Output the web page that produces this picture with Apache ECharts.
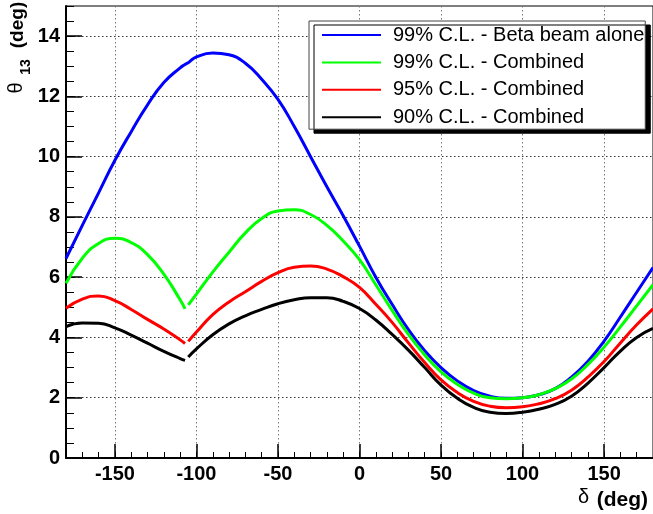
<!DOCTYPE html>
<html>
<head>
<meta charset="utf-8">
<script src="https://cdn.jsdelivr.net/npm/echarts@6/dist/echarts.min.js"></script>
<style>html,body{margin:0;padding:0;background:#fff;}#c{width:653px;height:514px;}</style>
</head>
<body>
<div id="c"></div>
<script>
const delta = [-180,-170,-160,-150,-140,-130,-120,-110,-107,-106,-105,-100,-90,-80,-70,-60,-50,-40,-30,-20,-10,0,10,20,30,40,50,60,70,80,90,100,110,120,130,140,150,160,170,180];
const blue99 = [6.62,7.72,8.8,9.88,10.83,11.72,12.46,12.95,13.06,13.09,13.12,13.31,13.44,13.38,13.1,12.57,11.9,11.0,10.0,9.0,8.04,7.03,6.0,5.1,4.26,3.56,3.0,2.56,2.24,2.05,1.98,2.0,2.1,2.3,2.68,3.2,3.88,4.68,5.5,6.32];
const green99 = [5.8,6.63,7.12,7.29,7.15,6.75,6.1,5.25,4.95,null,5.08,5.44,6.17,6.83,7.47,7.95,8.2,8.24,8.08,7.72,7.2,6.58,5.75,4.9,4.1,3.42,2.86,2.45,2.15,2.0,1.97,2.0,2.1,2.3,2.62,3.1,3.68,4.35,5.05,5.75];
const red95 = [4.97,5.27,5.38,5.22,4.93,4.6,4.28,3.92,3.8,null,3.87,4.18,4.76,5.18,5.52,5.86,6.15,6.33,6.37,6.27,6.02,5.66,5.1,4.5,3.82,3.17,2.59,2.17,1.88,1.72,1.67,1.7,1.8,1.97,2.25,2.68,3.2,3.82,4.42,4.95];
const black90 = [4.36,4.48,4.47,4.32,4.08,3.81,3.54,3.3,3.24,null,3.35,3.62,4.09,4.45,4.72,4.93,5.12,5.25,5.32,5.32,5.2,4.96,4.58,4.1,3.58,3.0,2.42,1.98,1.68,1.52,1.48,1.52,1.62,1.78,2.05,2.48,3.0,3.55,4.0,4.3];
const seriesNames = ['99% C.L. - Beta beam alone','99% C.L. - Combined','95% C.L. - Combined','90% C.L. - Combined'];
const seriesColors = ['#0000ff','#00ff00','#ff0000','#000000'];
const xMajorTicks = [-150,-100,-50,0,50,100,150];
const yMajorTicks = [0,2,4,6,8,10,12,14];

const FONT = 'Liberation Sans';
const chart = echarts.init(document.getElementById('c'), null, {renderer:'canvas'});
const allSeries = [blue99, green99, red95, black90];

const xSplitColors = ['transparent','transparent','transparent','#777','transparent'];
const ySplitColors = ['#333','transparent','transparent','transparent'];

const option = {
  animation: false,
  backgroundColor: '#fff',
  grid: {left: 66, top: 6, width: 589.5, height: 452, show: true, borderColor: '#000', borderWidth: 1, backgroundColor: 'transparent', containLabel: false},
  xAxis: [
    {type:'value', min:-180, max:180, interval:10, position:'bottom',
     axisLine:{show:true, onZero:false, lineStyle:{color:'#000', width:2}},
     axisTick:{show:true, inside:true, length:6, lineStyle:{color:'#000', width:1}},
     axisLabel:{show:false},
     splitLine:{show:true, lineStyle:{color:xSplitColors, width:1, type:[1.5,2.5]}}},
    {type:'value', min:-180, max:180, interval:10, position:'bottom',
     axisLine:{show:false, onZero:false},
     axisTick:{show:true, inside:true, length:14, customValues:xMajorTicks, lineStyle:{color:'#000', width:1.5}},
     axisLabel:{show:true, customValues:xMajorTicks, margin:6, color:'#000', fontFamily:FONT, fontWeight:'bold', fontSize:20},
     splitLine:{show:false}}
  ],
  yAxis: [
    {type:'value', min:0, max:15, interval:0.5, position:'left',
     axisLine:{show:true, onZero:false, lineStyle:{color:'#000', width:2}},
     axisTick:{show:true, inside:true, length:8, lineStyle:{color:'#000', width:1}},
     axisLabel:{show:false},
     splitLine:{show:true, lineStyle:{color:ySplitColors, width:1, type:[1.5,2.5]}}},
    {type:'value', min:0, max:15, interval:0.5, position:'left',
     axisLine:{show:false, onZero:false},
     axisTick:{show:true, inside:true, length:16, customValues:yMajorTicks, lineStyle:{color:'#000', width:1.5}},
     axisLabel:{show:true, customValues:yMajorTicks, margin:6, color:'#000', fontFamily:FONT, fontWeight:'bold', fontSize:20},
     splitLine:{show:false}}
  ],
  legend: {
    orient:'vertical', left:309, top:21,
    padding:[4,1,2,13],
    icon:'rect',
    itemWidth:59, itemHeight:2, itemGap:7.4,
    backgroundColor:'#fff', borderColor:'#444', borderWidth:1,
    shadowColor:'#000', shadowOffsetX:5, shadowOffsetY:4, shadowBlur:0,
    textStyle:{fontFamily:FONT, fontSize:20, color:'#000', lineHeight:19, padding:[0,0,0,7]},
    data: seriesNames
  },
  graphic: [
    {type:'text', x:16.5, y:88, rotation:Math.PI/2, style:{text:'θ', font:'20px "Liberation Sans"', fill:'#000', align:'center', verticalAlign:'middle'}},
    {type:'text', x:26, y:67, rotation:Math.PI/2, style:{text:'13', font:'bold 14px "Liberation Sans"', fill:'#000', align:'center', verticalAlign:'middle'}},
    {type:'text', x:17.5, y:25, rotation:Math.PI/2, style:{text:'(deg)', font:'bold 19px "Liberation Sans"', fill:'#000', align:'center', verticalAlign:'middle'}},
    {type:'text', x:583.5, y:497, style:{text:'δ', font:'20px "Liberation Sans"', fill:'#000', align:'center', verticalAlign:'middle'}},
    {type:'text', x:648, y:500, style:{text:'(deg)', font:'bold 21px "Liberation Sans"', fill:'#000', align:'right', verticalAlign:'middle'}}
  ],
  series: allSeries.map((vals, k) => ({
    name: seriesNames[k], type:'line', xAxisIndex:0, yAxisIndex:0,
    data: delta.map((d, i) => [d, vals[i]]),
    showSymbol:false, symbol:'none', smooth:0.5, connectNulls:false,
    lineStyle:{color:seriesColors[k], width:3},
    itemStyle:{color:seriesColors[k]},
    z: 2 + k
  }))
};
chart.setOption(option);
</script>
</body>
</html>
